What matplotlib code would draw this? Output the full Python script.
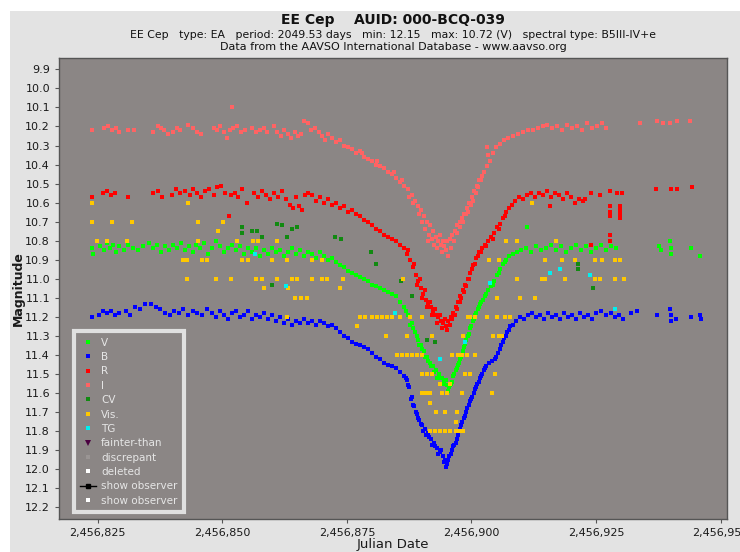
import matplotlib
matplotlib.use("Agg")
import matplotlib.pyplot as plt
from matplotlib.lines import Line2D
from matplotlib.patches import Rectangle
from matplotlib.ticker import FuncFormatter
import numpy as np

plt.rcParams.update({
    "font.family": "DejaVu Sans",
    "font.size": 8,
})

# ---------------------------------------------------------------
# Datos leidos de la curva de luz (dias = JD - 2456000, magnitud)
# ---------------------------------------------------------------
JD0 = 2456000

i_days = [823.8, 826.2, 827.0, 827.8, 828.6, 829.3, 831.0, 832.2, 836.1, 837.0,
          837.6, 838.2, 839.0, 840.0, 840.8, 841.5, 843.0, 844.2, 845.0, 845.8,
          848.3, 849.0, 849.6, 850.3, 850.9, 851.5, 852.0, 852.2, 853.0, 853.8,
          854.6, 856.0, 856.8, 857.6, 858.4, 859.0, 860.3, 861.0, 861.7, 862.4,
          863.1, 863.8, 864.5, 865.2, 865.8, 866.4, 867.2, 867.8, 868.6, 869.3,
          870.0, 870.6, 871.3, 872.0, 872.8, 873.6, 874.4, 875.2, 876.0, 876.8,
          877.6, 878.4, 879.2, 880.0, 880.8, 881.6, 882.4, 883.2, 884.0, 884.8,
          885.6, 886.4, 887.2, 888.0, 888.6, 889.2, 889.8, 890.4, 891.0, 891.3,
          891.5, 891.6, 892.2, 892.8, 893.3, 893.8, 894.0, 894.3, 894.8, 895.2,
          895.6, 896.1, 896.6, 897.1, 897.6, 898.1, 898.6, 899.1, 899.6, 900.1,
          900.6, 901.1, 901.6, 902.1, 902.6, 903.1, 903.2, 903.3, 903.7, 904.3,
          905.0, 905.8, 906.6, 907.4, 908.4, 909.4, 910.4, 911.4, 912.4, 913.4,
          914.4, 915.2, 916.2, 917.2, 918.2, 919.2, 920.2, 921.2, 922.2, 923.2,
          924.2, 925.2, 926.2, 927.0, 933.9, 937.3, 938.5, 939.9, 941.3, 943.9,
          878.0, 881.0, 884.4, 886.0, 887.5, 888.3, 889.5, 890.1, 890.7, 892.0,
          892.5, 893.0, 893.6, 894.5, 895.0, 895.8, 896.4, 897.0, 897.8, 898.4,
          899.0, 899.4, 900.0, 900.4, 901.0, 901.4, 902.0]
i_mag = [10.22, 10.21, 10.20, 10.22, 10.21, 10.23, 10.22, 10.22, 10.23, 10.20,
         10.21, 10.22, 10.24, 10.23, 10.21, 10.22, 10.19, 10.21, 10.23, 10.24,
         10.21, 10.22, 10.20, 10.23, 10.26, 10.22, 10.10, 10.21, 10.20, 10.23,
         10.22, 10.21, 10.23, 10.22, 10.21, 10.23, 10.20, 10.23, 10.25, 10.22,
         10.24, 10.26, 10.23, 10.25, 10.24, 10.17, 10.18, 10.22, 10.21, 10.23,
         10.25, 10.27, 10.24, 10.26, 10.28, 10.27, 10.30, 10.31, 10.32, 10.34,
         10.33, 10.36, 10.37, 10.38, 10.40, 10.41, 10.42, 10.44, 10.45, 10.47,
         10.49, 10.51, 10.53, 10.56, 10.59, 10.62, 10.64, 10.67, 10.70, 10.80,
         10.77, 10.72, 10.75, 10.78, 10.80, 10.82, 10.86, 10.80, 10.85, 10.88,
         10.79, 10.77, 10.75, 10.72, 10.70, 10.68, 10.66, 10.63, 10.60, 10.57,
         10.54, 10.51, 10.48, 10.46, 10.44, 10.41, 10.31, 10.35, 10.38, 10.34,
         10.31, 10.29, 10.27, 10.26, 10.25, 10.24, 10.23, 10.22, 10.22, 10.21,
         10.20, 10.19, 10.21, 10.20, 10.22, 10.19, 10.21, 10.20, 10.22, 10.18,
         10.21, 10.20, 10.18, 10.21, 10.18, 10.17, 10.18, 10.18, 10.17, 10.17,
         10.34, 10.38, 10.44, 10.48, 10.57, 10.60, 10.66, 10.70, 10.74, 10.79,
         10.82, 10.84, 10.77, 10.83, 10.80, 10.84, 10.80, 10.76, 10.73, 10.70,
         10.66, 10.65, 10.61, 10.59, 10.55, 10.52, 10.48]

r_days = [823.8, 826.0, 826.8, 827.6, 828.4, 831.0, 836.1, 837.0, 837.8, 839.8,
          840.6, 841.4, 842.4, 843.4, 844.2, 845.0, 845.8, 846.6, 847.3, 848.3,
          849.0, 849.8, 850.5, 851.3, 851.8, 852.5, 853.2, 854.0, 855.0, 856.4,
          857.2, 858.0, 858.8, 859.6, 860.4, 861.2, 862.0, 862.8, 863.6, 864.2,
          864.8, 865.4, 866.0, 866.6, 867.2, 868.0, 868.8, 869.6, 870.4, 871.2,
          872.0, 872.8, 873.6, 874.4, 875.2, 876.0, 876.8, 877.6, 878.4, 879.2,
          880.0, 880.8, 881.6, 882.4, 883.2, 884.0, 884.8, 885.6, 886.4, 887.0,
          887.6, 888.2, 888.8, 889.3, 889.8, 890.3, 890.8, 891.3, 891.8, 892.3,
          892.8, 893.3, 893.8, 894.3, 894.8, 895.3, 895.8, 896.3, 896.8, 897.3,
          897.8, 898.3, 898.8, 899.3, 899.8, 900.4, 901.0, 901.6, 902.2, 902.8,
          903.4, 904.0, 904.6, 905.2, 905.8, 906.4, 907.0, 907.6, 908.2, 908.8,
          909.6, 910.4, 911.2, 912.0, 912.8, 913.6, 914.4, 915.2, 915.8, 916.0,
          916.8, 917.6, 918.4, 919.2, 920.0, 920.8, 921.6, 922.4, 922.8, 923.9,
          923.9, 925.9, 927.9, 927.9, 927.9, 927.9, 927.9, 927.9, 929.2, 929.9,
          929.9, 929.9, 929.9, 930.2, 937.1, 940.0, 941.3, 944.2,
          887.3, 888.5, 889.0, 889.6, 890.1, 890.6, 891.1, 891.6, 892.1, 892.6,
          893.1, 893.6, 894.1, 894.6, 895.0, 895.6, 896.0, 896.6, 897.0, 897.6,
          898.0, 898.6, 899.0, 899.6, 900.2, 900.8, 901.3, 902.0, 903.0, 904.3,
          905.5, 906.8]
r_mag = [10.57, 10.55, 10.54, 10.56, 10.55, 10.57, 10.55, 10.54, 10.57, 10.56,
         10.53, 10.55, 10.54, 10.56, 10.53, 10.55, 10.57, 10.54, 10.53, 10.56,
         10.52, 10.51, 10.55, 10.67, 10.56, 10.55, 10.57, 10.53, 10.60, 10.55,
         10.57, 10.54, 10.56, 10.58, 10.55, 10.57, 10.54, 10.58, 10.61, 10.63,
         10.57, 10.62, 10.64, 10.56, 10.55, 10.56, 10.59, 10.57, 10.60, 10.58,
         10.61, 10.60, 10.63, 10.62, 10.65, 10.64, 10.66, 10.67, 10.69, 10.70,
         10.72, 10.74, 10.75, 10.77, 10.78, 10.79, 10.80, 10.82, 10.84, 10.87,
         10.90, 10.94, 10.98, 11.01, 11.05, 11.08, 11.11, 11.13, 11.15, 11.17,
         11.19, 11.20, 11.22, 11.23, 11.25, 11.22, 11.20, 11.18, 11.15, 11.12,
         11.09, 11.06, 11.03, 11.00, 10.97, 10.93, 10.89, 10.86, 10.84, 10.82,
         10.80, 10.78, 10.76, 10.73, 10.71, 10.68, 10.65, 10.63, 10.61, 10.59,
         10.57, 10.58, 10.56, 10.55, 10.57, 10.55, 10.56, 10.54, 10.62, 10.57,
         10.55, 10.56, 10.58, 10.55, 10.57, 10.60, 10.58, 10.59, 10.58, 10.55,
         10.82, 10.56, 10.54, 10.62, 10.65, 10.67, 10.77, 10.80, 10.55, 10.62,
         10.64, 10.66, 10.68, 10.55, 10.53, 10.53, 10.53, 10.52,
         10.85, 10.92, 11.03, 11.00, 11.10, 11.06, 11.15, 11.12, 11.19, 11.16,
         11.23, 11.19, 11.26, 11.21, 11.27, 11.24, 11.21, 11.19, 11.16, 11.12,
         11.10, 11.07, 11.04, 11.00, 10.95, 10.92, 10.88, 10.86, 10.83, 10.79,
         10.74, 10.67]

v_days = [823.8, 824.0, 825.5, 826.2, 826.8, 827.4, 828.0, 828.6, 829.2, 830.2,
          831.0, 832.0, 833.0, 834.0, 835.2, 836.0, 836.8, 837.6, 838.4, 839.2,
          840.0, 840.8, 841.6, 842.4, 843.2, 844.0, 844.8, 845.6, 846.4, 847.2,
          848.0, 848.8, 849.6, 850.4, 851.2, 852.0, 852.8, 853.6, 854.4, 855.2,
          856.0, 856.8, 857.6, 858.4, 859.2, 860.0, 860.8, 861.6, 862.4, 863.2,
          864.0, 864.8, 865.6, 866.4, 867.2, 868.0, 868.8, 869.6, 870.4, 871.2,
          872.0, 872.8, 873.6, 874.4, 875.2, 876.0, 876.8, 877.6, 878.4, 879.2,
          880.0, 880.8, 881.6, 882.4, 883.2, 884.0, 884.8, 885.6, 886.4, 887.2,
          888.0, 888.6, 889.2, 889.8, 890.4, 891.0, 891.6, 892.2, 892.8, 893.4,
          894.0, 894.5, 895.0, 895.4, 895.8, 896.3, 896.8, 897.3, 897.8, 898.3,
          898.8, 899.3, 899.8, 900.3, 900.8, 901.3, 901.8, 902.3, 902.8, 903.4,
          904.0, 904.6, 905.2, 905.8, 906.4, 907.0, 907.6, 908.4, 909.2, 910.0,
          911.0, 911.2, 912.0, 913.0, 914.0, 915.0, 916.0, 917.0, 918.0, 919.0,
          920.0, 921.0, 922.0, 923.0, 924.0, 925.0, 926.0, 927.0, 928.0, 929.0,
          937.6, 938.0, 939.9, 940.0, 940.0, 944.0, 945.8,
          886.8, 887.6, 888.3, 889.0, 889.5, 890.1, 890.7, 891.3, 891.9, 892.5,
          893.1, 893.7, 894.2, 894.8, 895.2, 895.6, 896.0, 896.5, 897.0, 897.5,
          898.0, 898.5, 899.0, 899.5, 900.0, 900.5, 901.0, 901.5, 902.0, 903.0,
          904.3, 905.5, 906.7]
v_mag = [10.84, 10.87, 10.83, 10.85, 10.81, 10.84, 10.82, 10.86, 10.83, 10.85,
         10.82, 10.84, 10.85, 10.83, 10.81, 10.84, 10.82, 10.86, 10.83, 10.85,
         10.82, 10.84, 10.81, 10.85, 10.83, 10.86, 10.82, 10.84, 10.81, 10.87,
         10.84, 10.80, 10.83, 10.86, 10.84, 10.82, 10.85, 10.83, 10.87, 10.84,
         10.86, 10.84, 10.88, 10.85, 10.87, 10.84, 10.86, 10.85, 10.88, 10.86,
         10.84, 10.87, 10.85, 10.88, 10.86, 10.87, 10.89, 10.86, 10.88, 10.90,
         10.89, 10.91, 10.93, 10.94, 10.96, 10.97, 10.98, 10.99, 11.00, 11.01,
         11.03, 11.04, 11.05, 11.06, 11.07, 11.08, 11.09, 11.12, 11.15, 11.19,
         11.23, 11.28, 11.32, 11.35, 11.38, 11.41, 11.44, 11.46, 11.48, 11.50,
         11.52, 11.54, 11.56, 11.57, 11.55, 11.51, 11.48, 11.45, 11.42, 11.38,
         11.34, 11.30, 11.26, 11.22, 11.19, 11.16, 11.13, 11.11, 11.09, 11.06,
         11.04, 11.01, 10.98, 10.95, 10.92, 10.90, 10.88, 10.87, 10.86, 10.85,
         10.84, 10.73, 10.86, 10.83, 10.85, 10.84, 10.82, 10.85, 10.83, 10.86,
         10.84, 10.82, 10.85, 10.83, 10.86, 10.84, 10.82, 10.85, 10.83, 10.84,
         10.83, 10.85, 10.80, 10.84, 10.87, 10.84, 10.88,
         11.17, 11.24, 11.26, 11.30, 11.35, 11.37, 11.41, 11.43, 11.46, 11.49,
         11.52, 11.52, 11.55, 11.53, 11.59, 11.56, 11.54, 11.50, 11.47, 11.44,
         11.41, 11.36, 11.32, 11.29, 11.25, 11.21, 11.18, 11.15, 11.12, 11.08,
         11.03, 10.97, 10.91]

b_days = [823.8, 825.2, 826.0, 826.8, 827.6, 828.4, 829.2, 830.6, 831.4, 832.4,
          833.4, 834.4, 835.6, 836.6, 837.4, 838.4, 839.4, 840.2, 841.2, 842.0,
          843.0, 844.0, 845.0, 846.0, 847.0, 848.0, 848.8, 849.6, 850.4, 851.2,
          852.0, 852.8, 853.6, 854.4, 855.2, 856.0, 856.8, 857.6, 858.4, 859.2,
          860.0, 860.8, 861.6, 862.4, 863.2, 864.0, 864.8, 865.6, 866.4, 867.2,
          868.0, 868.8, 869.6, 870.4, 871.2, 872.0, 872.8, 873.6, 874.4, 875.2,
          876.0, 876.8, 877.6, 878.4, 879.2, 880.0, 880.8, 881.6, 882.4, 883.2,
          884.0, 884.8, 885.6, 886.4, 887.0, 887.5, 888.0, 888.5, 889.0, 889.5,
          890.0, 890.6, 891.2, 891.8, 892.4, 893.0, 893.6, 894.2, 894.7, 895.1,
          895.5, 896.0, 896.5, 897.0, 897.5, 898.0, 898.5, 899.0, 899.5, 900.0,
          900.5, 901.0, 901.5, 902.0, 902.5, 903.0, 903.6, 904.2, 904.8, 905.4,
          906.0, 906.6, 907.2, 907.8, 908.4, 909.0, 909.8, 910.6, 911.4, 912.2,
          913.0, 913.8, 914.6, 915.4, 916.2, 917.0, 917.8, 918.6, 919.4, 920.2,
          921.0, 921.8, 922.6, 923.4, 924.2, 925.0, 926.0, 927.0, 928.0, 928.8,
          929.6, 930.4, 932.0, 933.2, 937.3, 939.9, 940.0, 940.0, 941.0, 944.0,
          945.8, 946.0,
          886.8, 887.2, 887.8, 888.2, 888.8, 889.2, 889.8, 890.3, 890.9, 891.5,
          892.1, 892.7, 893.3, 893.9, 894.5, 894.9, 895.3, 895.8, 896.2, 896.8,
          897.2, 897.8, 898.2, 898.8, 899.2, 899.8, 900.2, 900.8, 901.2, 901.8,
          902.2, 902.8, 905.0, 905.7, 906.3, 907.0, 907.5]
b_mag = [11.20, 11.19, 11.17, 11.18, 11.17, 11.19, 11.18, 11.17, 11.19, 11.15,
         11.16, 11.13, 11.13, 11.15, 11.16, 11.18, 11.19, 11.17, 11.18, 11.16,
         11.19, 11.17, 11.18, 11.19, 11.16, 11.18, 11.20, 11.17, 11.19, 11.21,
         11.18, 11.17, 11.20, 11.19, 11.17, 11.21, 11.19, 11.20, 11.18, 11.21,
         11.19, 11.22, 11.20, 11.23, 11.21, 11.24, 11.22, 11.23, 11.21, 11.23,
         11.22, 11.24, 11.22, 11.23, 11.25, 11.24, 11.26, 11.28, 11.30, 11.31,
         11.33, 11.34, 11.35, 11.36, 11.37, 11.39, 11.41, 11.42, 11.44, 11.45,
         11.46, 11.47, 11.49, 11.51, 11.53, 11.57, 11.62, 11.67, 11.71, 11.74,
         11.77, 11.79, 11.81, 11.84, 11.86, 11.89, 11.91, 11.93, 11.95, 11.97,
         11.93, 11.90, 11.87, 11.84, 11.80, 11.77, 11.73, 11.70, 11.66, 11.63,
         11.60, 11.57, 11.54, 11.51, 11.48, 11.46, 11.44, 11.43, 11.42, 11.39,
         11.35, 11.31, 11.28, 11.25, 11.24, 11.22, 11.20, 11.21, 11.19, 11.18,
         11.20, 11.19, 11.21, 11.18, 11.20, 11.19, 11.21, 11.18, 11.20, 11.19,
         11.21, 11.18, 11.20, 11.19, 11.21, 11.18, 11.17, 11.19, 11.18, 11.20,
         11.19, 11.21, 11.18, 11.17, 11.19, 11.16, 11.19, 11.22, 11.21, 11.20,
         11.19, 11.21,
         11.52, 11.56, 11.63, 11.66, 11.70, 11.73, 11.76, 11.80, 11.82, 11.83,
         11.87, 11.88, 11.92, 11.90, 11.96, 11.99, 11.95, 11.92, 11.88, 11.86,
         11.82, 11.79, 11.75, 11.72, 11.68, 11.64, 11.62, 11.58, 11.55, 11.52,
         11.50, 11.47, 11.41, 11.37, 11.33, 11.30, 11.27]

cv_days = [854.0, 854.0, 856.0, 857.0, 858.0, 860.0, 861.0, 862.0, 863.0, 864.0,
           865.0, 872.6, 873.9, 879.9, 880.9, 885.9, 888.1, 891.1, 892.7, 921.3,
           921.3, 924.3]
cv_mag = [10.73, 10.76, 10.75, 10.75, 10.78, 11.03, 10.71, 10.72, 10.78, 10.74,
          10.73, 10.78, 10.79, 10.86, 10.92, 11.01, 11.09, 11.32, 11.33, 10.92,
          10.95, 11.05]

vis_days = [823.9, 843.1, 912.2,
            823.9, 827.9, 831.9, 845.1, 850.2, 849.2,
            824.9, 826.9, 830.9, 845.1, 853.0, 856.2, 857.2, 861.0, 907.0, 909.2,
            917.0,
            842.1, 842.9, 845.9, 846.9, 854.0, 855.2, 860.0, 863.0, 868.0, 870.0,
            903.6, 905.6, 914.8, 918.2, 920.8, 924.8, 926.2, 928.8, 929.9,
            842.9, 848.8, 851.8, 856.8, 858.0, 861.0, 864.0, 865.0, 868.0, 870.0,
            871.0, 874.3, 886.3, 909.2, 914.1, 914.8, 918.8, 924.8, 925.9, 928.8,
            930.7,
            858.4, 863.2, 873.7,
            864.6, 865.8, 867.0, 905.2, 909.8, 912.8,
            863.0, 877.7, 878.7, 880.1, 881.1, 882.1, 883.1, 884.1, 885.7, 887.7,
            890.1, 899.4, 899.8, 900.8, 903.2, 905.2, 906.8, 907.8,
            877.1,
            882.9, 887.1, 892.1, 898.4, 904.4, 905.6, 906.2,
            885.1, 886.1, 887.1, 888.1, 889.1, 890.1, 896.1, 897.2, 898.2, 899.2,
            900.8,
            890.1, 891.1, 892.1, 898.8, 899.8, 904.8,
            893.7, 895.7,
            890.1, 890.9, 891.7, 894.1, 895.1, 898.2, 904.2,
            891.7,
            892.9, 894.7, 897.0,
            896.8,
            891.7, 892.7, 893.7, 894.7, 895.7, 896.8, 897.8, 898.4]
vis_mag = [10.6, 10.6, 10.6,
           10.7, 10.7, 10.7, 10.7, 10.7, 10.75,
           10.8, 10.8, 10.8, 10.8, 10.8, 10.8, 10.8, 10.8, 10.8, 10.8,
           10.8,
           10.9, 10.9, 10.9, 10.9, 10.9, 10.9, 10.9, 10.9, 10.9, 10.9,
           10.9, 10.9, 10.9, 10.9, 10.9, 10.9, 10.9, 10.9, 10.9,
           11.0, 11.0, 11.0, 11.0, 11.0, 11.0, 11.0, 11.0, 11.0, 11.0,
           11.0, 11.0, 11.0, 11.0, 11.0, 11.0, 11.0, 11.0, 11.0, 11.0,
           11.0,
           11.05, 11.05, 11.05,
           11.1, 11.1, 11.1, 11.1, 11.1, 11.1,
           11.2, 11.2, 11.2, 11.2, 11.2, 11.2, 11.2, 11.2, 11.2, 11.2,
           11.2, 11.2, 11.2, 11.2, 11.2, 11.2, 11.2, 11.2,
           11.25,
           11.3, 11.3, 11.3, 11.3, 11.3, 11.3, 11.3,
           11.4, 11.4, 11.4, 11.4, 11.4, 11.4, 11.4, 11.4, 11.4, 11.4,
           11.4,
           11.5, 11.5, 11.5, 11.5, 11.5, 11.5,
           11.55, 11.55,
           11.6, 11.6, 11.6, 11.6, 11.6, 11.6, 11.6,
           11.65,
           11.7, 11.7, 11.7,
           11.75,
           11.8, 11.8, 11.8, 11.8, 11.8, 11.8, 11.8, 11.8]

tg_days = [856.6, 862.8, 884.7, 893.7, 898.8, 903.8, 915.8, 917.8, 923.8, 928.8]
tg_mag = [10.87, 11.04, 11.18, 11.42, 11.33, 11.02, 10.97, 10.95, 10.98, 11.16]

x_ticks = [2456825, 2456850, 2456875, 2456900, 2456925, 2456950]
y_ticks = [9.9, 10.0, 10.1, 10.2, 10.3, 10.4, 10.5, 10.6, 10.7, 10.8, 10.9,
           11.0, 11.1, 11.2, 11.3, 11.4, 11.5, 11.6, 11.7, 11.8, 11.9, 12.0,
           12.1, 12.2]

BG = "#8b8685"
COLORES = {
    "V": "#00ff00", "B": "#0000ff", "R": "#ff0000", "I": "#ff6363",
    "CV": "#118a11", "Vis.": "#ffc800", "TG": "#00f0f0",
}

# ---------------------------------------------------------------
fig = plt.figure(figsize=(7.40, 5.52), dpi=100, facecolor="white")
fig.patches.append(Rectangle((10 / 740, 0), 1, 1 - 11 / 552,
                             transform=fig.transFigure, facecolor="#e3e3e3",
                             edgecolor="none", zorder=-10))

ax = fig.add_axes([59 / 740, 1 - 519 / 552, 668 / 740, 461.3 / 552])
ax.set_facecolor(BG)

series = [
    ("I", i_days, i_mag, 3.4),
    ("R", r_days, r_mag, 3.4),
    ("V", v_days, v_mag, 3.4),
    ("B", b_days, b_mag, 3.4),
    ("CV", cv_days, cv_mag, 2.5),
    ("Vis.", vis_days, vis_mag, 2.3),
    ("TG", tg_days, tg_mag, 2.5),
]
for nombre, dias, mags, ms in series:
    jd = JD0 + np.array(dias)
    ax.plot(jd, mags, ls="none", marker="s", ms=ms, mew=0,
            color=COLORES[nombre], zorder=3)

ax.set_xlim(2456817.2, 2456951.3)
ax.set_ylim(12.261, 9.839)
ax.set_xticks(x_ticks)
ax.xaxis.set_major_formatter(FuncFormatter(lambda v, p: f"{v:,.0f}"))
ax.set_yticks(y_ticks)
ax.set_yticklabels([f"{v:.1f}" for v in y_ticks])
ax.tick_params(axis="both", direction="out", length=3, width=0.8,
               colors="#555555", labelcolor="#1a1a1a", labelsize=8)

for sp in ax.spines.values():
    sp.set_color("#555555")
    sp.set_linewidth(1.0)

ax.set_xlabel("Julian Date", fontsize=9.5, color="#1a1a1a", labelpad=0)
ax.set_ylabel("Magnitude", fontsize=9, fontweight="bold", color="#1a1a1a",
              labelpad=0)

# titulos
cx = (59 + 727) / 2 / 740
fig.text(cx, 1 - 20 / 552, "EE Cep    AUID: 000-BCQ-039", ha="center",
         va="center", fontsize=10, fontweight="bold", color="#111111")
fig.text(cx, 1 - 35.5 / 552,
         "EE Cep   type: EA   period: 2049.53 days   min: 12.15   "
         "max: 10.72 (V)   spectral type: B5III-IV+e",
         ha="center", va="center", fontsize=7.8, color="#111111")
fig.text(cx, 1 - 47.5 / 552,
         "Data from the AAVSO International Database - www.aavso.org",
         ha="center", va="center", fontsize=8, color="#111111")

# leyenda
def h(color, marker="s", ms=3, ls="none"):
    return Line2D([], [], color=color, marker=marker, ms=ms, mew=0, ls=ls)

handles = [
    h(COLORES["V"]), h(COLORES["B"]), h(COLORES["R"]), h(COLORES["I"]),
    h(COLORES["CV"]), h(COLORES["Vis."]), h(COLORES["TG"]),
    h("#4a0040", marker="v", ms=5), h("#9a9594"), h("white"),
    Line2D([], [], color="black", marker="s", ms=3, lw=1),
    h("white"),
]
labels = ["V", "B", "R", "I", "CV", "Vis.", "TG", "fainter-than",
          "discrepant", "deleted", "show observer", "show observer"]
leg = ax.legend(handles, labels, loc="lower left",
                bbox_to_anchor=(15 / 668, 7 / 461.3), borderaxespad=0,
                fontsize=7.5, labelcolor="#e6e6e6", frameon=True,
                fancybox=False, facecolor=BG, edgecolor="#e0e0e0",
                framealpha=1, labelspacing=0.42, handlelength=1.5,
                handletextpad=0.5, borderpad=0.6)
leg.get_frame().set_linewidth(3)
leg.set_zorder(5)

fig.savefig("out.png", dpi=100, facecolor=fig.get_facecolor())
